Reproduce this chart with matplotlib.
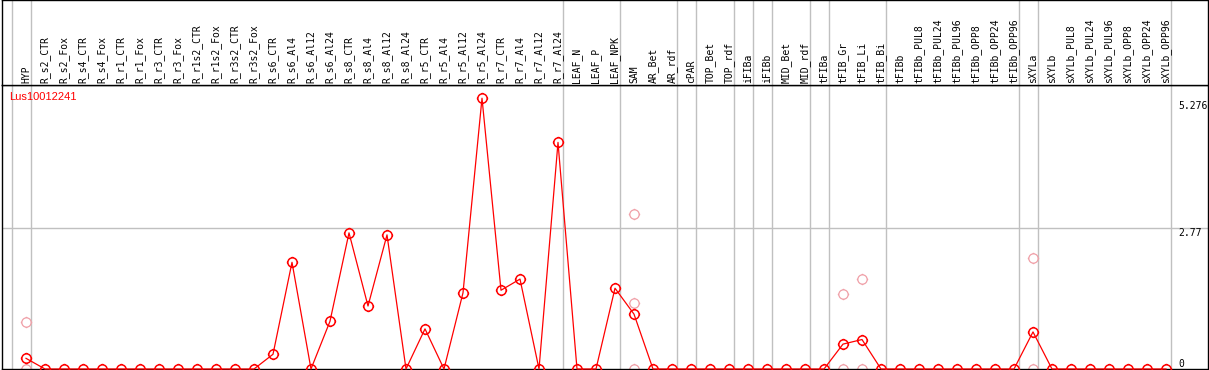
import matplotlib.pyplot as plt
import numpy as np
from matplotlib.path import Path

# sample columns (left to right)
samples = ["HYP", "R_s2_CTR", "R_s2_Fox", "R_s4_CTR", "R_s4_Fox", "R_r1_CTR", "R_r1_Fox",
           "R_r3_CTR", "R_r3_Fox", "R_r1s2_CTR", "R_r1s2_Fox", "R_r3s2_CTR", "R_r3s2_Fox",
           "R_s6_CTR", "R_s6_Al4", "R_s6_Al12", "R_s6_Al24", "R_s8_CTR", "R_s8_Al4",
           "R_s8_Al12", "R_s8_Al24", "R_r5_CTR", "R_r5_Al4", "R_r5_Al12", "R_r5_Al24",
           "R_r7_CTR", "R_r7_Al4", "R_r7_Al12", "R_r7_Al24", "LEAF_N", "LEAF_P", "LEAF_NPK",
           "SAM", "AR_Bet", "AR_rdf", "cPAR", "TOP_Bet", "TOP_rdf", "iFIBa", "iFIBb",
           "MID_Bet", "MID_rdf", "tFIBa", "tFIB_Gr", "tFIB_Li", "tFIB_Bi", "tFIBb",
           "tFIBb_PUL8", "tFIBb_PUL24", "tFIBb_PUL96", "tFIBb_OPP8", "tFIBb_OPP24",
           "tFIBb_OPP96", "sXYLa", "sXYLb", "sXYLb_PUL8", "sXYLb_PUL24", "sXYLb_PUL96",
           "sXYLb_OPP8", "sXYLb_OPP24", "sXYLb_OPP96"]

# mean expression per column
expr = [0.21, 0, 0, 0, 0, 0, 0, 0, 0, 0, 0, 0, 0,
        0.29, 2.10, 0, 0.94, 2.68, 1.24, 2.64, 0, 0.79, 0, 1.50, 5.33,
        1.55, 1.77, 0, 4.46, 0, 0, 1.59,
        1.08, 0, 0, 0, 0, 0, 0, 0, 0, 0, 0, 0.49, 0.58, 0, 0,
        0, 0, 0, 0, 0, 0, 0.73, 0, 0, 0, 0, 0, 0, 0]

# individual replicates (pale points)
rep_samples = ["HYP", "HYP", "SAM", "SAM", "SAM", "tFIB_Gr", "tFIB_Gr",
               "tFIB_Li", "tFIB_Li", "sXYLa", "sXYLa"]
rep_values = [0.93, 0, 3.05, 1.29, 0, 1.47, 0, 1.77, 0, 2.18, 0]

# last column of each group (gray separators)
group_last = ["HYP", "R_r7_Al24", "LEAF_NPK", "AR_rdf", "cPAR", "TOP_rdf", "iFIBa",
              "iFIBb", "MID_rdf", "tFIBa", "tFIB_Bi", "tFIBb_OPP96", "sXYLa", "sXYLb_OPP96"]

y_ticks = [0, 2.77, 5.276]
y_tick_labels = ["0", "2.77", "5.276"]
gene = "Lus10012241"

W, H = 1209, 370
fig = plt.figure(figsize=(W / 100, H / 100), dpi=100)
fig.patch.set_facecolor("white")

x = np.arange(len(samples))
xlim = ((1.5 - 26) / 19, (1207.5 - 26) / 19)

ax = fig.add_axes([1.5 / W, 1 / H, 1206 / W, 284 / H])
head = fig.add_axes([1.5 / W, 285 / H, 1206 / W, 85 / H])

for a in (ax, head):
    a.set_xlim(*xlim)
    a.set_xticks([])
    a.set_yticks([])
    for s in a.spines.values():
        s.set_color("black")
        s.set_linewidth(1.0)
    seps = [-1] + [samples.index(g) for g in group_last]
    for p in seps:
        a.axvline(p + 0.24, color="#c0c0c0", lw=1.0, zorder=0)

ax.set_ylim(0, 5.59)
ax.axhline(2.77, color="#c0c0c0", lw=1.0, zorder=0)

# marker: open circle with four short ticks outside
circ = Path.unit_circle()
tk = 1.22
ticks = [Path([[0, 1], [0, tk]], [Path.MOVETO, Path.LINETO]),
         Path([[0, -1], [0, -tk]], [Path.MOVETO, Path.LINETO]),
         Path([[1, 0], [tk, 0]], [Path.MOVETO, Path.LINETO]),
         Path([[-1, 0], [-tk, 0]], [Path.MOVETO, Path.LINETO])]
mk = Path.make_compound_path(circ, *ticks)

rep_x = [samples.index(s) for s in rep_samples]
ax.plot(rep_x, rep_values, ls="none", marker=mk, ms=8.2, mfc="none",
        mec="#f0a0a8", mew=0.9, clip_on=False, zorder=2)
ax.plot(x, expr, color="red", lw=0.9, marker=mk, ms=8.2, mfc="none",
        mec="red", mew=1.1, clip_on=False, zorder=3)

# value labels on the right
tr = ax.get_yaxis_transform()
for v, lab in zip(y_ticks, y_tick_labels):
    ax.text(0.9755, v, lab, transform=tr, ha="left",
            va="bottom" if v == 0 else "top",
            fontsize=7, family="DejaVu Sans Mono", color="black")

ax.text(7.5 / 1206, 1 - 7 / 284, gene, transform=ax.transAxes, ha="left", va="top",
        fontsize=8, family="Liberation Sans", color="red")

htr = head.get_xaxis_transform()
for i, lab in enumerate(samples):
    head.text(i, 2 / 85, lab, transform=htr, rotation=90, ha="center", va="bottom",
              fontsize=7, family="DejaVu Sans Mono", color="black")

fig.savefig("out.png", dpi=100)
